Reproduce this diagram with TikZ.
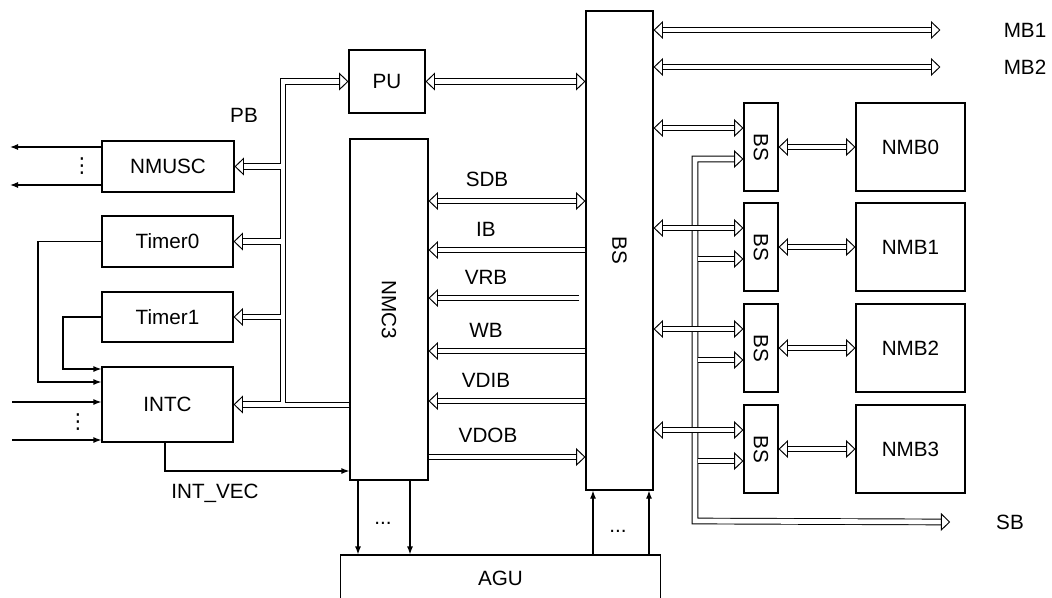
\documentclass[tikz,border=0pt]{standalone}
\usepackage{fontspec}
\setmainfont{Liberation Sans}
\newfontfamily\symfont{DejaVu Sans}
\usetikzlibrary{arrows.meta}

\tikzset{
    bustip/.tip={Triangle[open,fill=white,length=7pt,width=13.5pt,line width=0.7pt]},
    sigtip/.tip={Latex[length=6pt,width=4.5pt]},
    blk/.style={draw,line width=0.9pt,inner sep=0pt},
    bus/.style={double,double distance=3.6pt,line width=0.7pt},
    sig/.style={line width=0.9pt,-sigtip},
}

\begin{document}
\begin{tikzpicture}[x=0.75pt,y=-0.75pt,font=\fontsize{15.5}{18}\selectfont]
    \useasboundingbox (0,0) rectangle (1052,597);

    \node[blk,minimum width=57pt,minimum height=47.25pt] (PU) at (387,81.5) {PU};
    \node[blk,minimum width=50.25pt,minimum height=359.25pt,label={[rotate=-90]center:BS}] (BS) at (619.5,250.5) {};
    \node[blk,minimum width=58.5pt,minimum height=255.75pt,label={[rotate=-90]center:NMC3}] (NMC3) at (389,309.5) {};
    \node[blk,minimum width=99pt,minimum height=38.25pt] (NMUSC) at (168,166.5) {NMUSC};
    \node[blk,minimum width=98.25pt,minimum height=38.25pt] (Timer0) at (167.5,241.5) {Timer0};
    \node[blk,minimum width=98.25pt,minimum height=37.5pt] (Timer1) at (167.5,317) {Timer1};
    \node[blk,minimum width=98.25pt,minimum height=56.25pt] (INTC) at (167.5,404.5) {INTC};
    \node[blk,minimum width=240pt,minimum height=34.5pt] (AGU) at (500.5,578) {AGU};

    \foreach \i/\y in {0/147,1/247,2/348,3/449} {
        \node[blk,minimum width=25.5pt,minimum height=66pt,label={[rotate=-90]center:BS}] (BS\i) at (761,\y) {};
        \node[blk,minimum width=81.75pt,minimum height=66pt] (NMB\i) at (910.5,\y) {NMB\i};
    }

    \node (MB1) at (1025,30) {MB1};
    \node (MB2) at (1025,67) {MB2};
    \node (SB) at (1010,522) {SB};
    \node (PB) at (244,115) {PB};
    \node (INTVEC) at (215,493) {INT\_VEC};
    \node (SDB) at (487,179) {SDB};
    \node (VDOB) at (488,435) {VDOB};

    \draw[bus,bustip-bustip] (BS.east |- MB1) -- ([xshift=-44pt]MB1.west);
    \draw[bus,bustip-bustip] (BS.east |- MB2) -- ([xshift=-44pt]MB2.west);
    \draw[bus,bustip-bustip] (PU.east) -- (BS.west |- PU.east);

    \draw[bus,bustip-bustip] (NMC3.east |- 0,201) -- (BS.west |- 0,201);
    \foreach \name/\y/\g in {IB/250/0,VRB/298/6,WB/351/0,VDIB/401/0} {
        \node (\name) at (486,\y-21) {\name};
        \draw[bus,-bustip] (BS.west |- 0,\y) ++(-\g,0) -- (NMC3.east |- 0,\y);
    }
    \draw[bus,-bustip] (NMC3.east |- 0,457) -- (BS.west |- 0,457);

    \draw[bus,-bustip] (NMC3.west |- 0,405) -- (283,405) |- (PU.west);
    \foreach \n in {NMUSC,Timer0,Timer1,INTC}
        \draw[bus,-bustip] (280.5,0 |- \n.east) -- (\n.east);

    \draw[bus,bustip-bustip] (BS0.west |- 0,159) -| (695,521) -- ([xshift=-31pt]SB.west);
    \foreach \i/\y in {0/147,1/247,2/348,3/449} {
        \draw[bus,bustip-bustip] (BS.east |- 0,\y-19) -- (BS\i.west |- 0,\y-19);
        \draw[bus,bustip-bustip] (BS\i.east) -- (NMB\i.west);
    }
    \foreach \i/\y in {1/247,2/348,3/449}
        \draw[bus,-bustip] (697.5,\y+12) -- (BS\i.west |- 0,\y+12);

    \coordinate (out0) at (10,147);
    \coordinate (out1) at (10,185);
    \coordinate (in0) at (12,402);
    \coordinate (in1) at (12,440);
    \draw[sig] (NMUSC.west |- out0) -- (out0);
    \draw[sig] (NMUSC.west |- out1) -- (out1);
    \node (vd0) at (82,166) {\symfont ⋮};
    \draw[sig] (Timer0.west) -| (38,382) -- (INTC.west |- 0,382);
    \draw[sig] (Timer1.west) -| (63,369) -- (INTC.west |- 0,369);
    \draw[sig] (in0) -- (INTC.west |- in0);
    \draw[sig] (in1) -- (INTC.west |- in1);
    \node (vd1) at (78,422) {\symfont ⋮};
    \draw[sig] (INTC.south -| 165,0) |- (NMC3.west |- 0,471);

    \draw[sig] (NMC3.south -| 358,0) -- (AGU.north -| 358,0);
    \draw[sig] (NMC3.south -| 410,0) -- (AGU.north -| 410,0);
    \node (hd0) at (383,523) {...};
    \draw[sig] (AGU.north -| 593,0) -- (BS.south -| 593,0);
    \draw[sig] (AGU.north -| 649,0) -- (BS.south -| 649,0);
    \node (hd1) at (618,531) {...};
\end{tikzpicture}
\end{document}
